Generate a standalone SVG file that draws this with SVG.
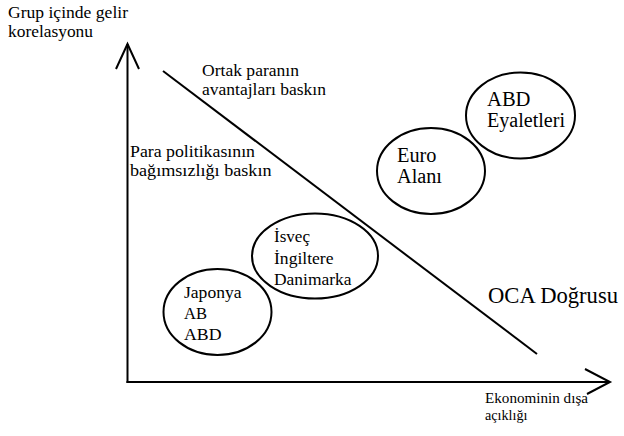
<svg xmlns="http://www.w3.org/2000/svg" width="624" height="436" viewBox="0 0 624 436">
<style>
  text { font-family: "Liberation Serif", "Times New Roman", serif; fill: #000; }
  .lbl { font-size: 17.5px; }
  .node-s { font-size: 17.5px; }
  .node-l { font-size: 20px; }
  .oca { font-size: 22.5px; }
  .ax { font-size: 14.5px; }
  .shape { fill: none; stroke: #000; stroke-width: 2; }
  .line { fill: none; stroke: #000; stroke-width: 2; stroke-linecap: butt; stroke-linejoin: miter; }
</style>
<rect x="0" y="0" width="624" height="436" fill="#fff"/>
<g id="connectors">
  <g id="y-axis">
    <line class="line" x1="127.5" y1="383" x2="127.5" y2="44"/>
    <polyline class="line" points="116,69 127.5,44 139,69"/>
  </g>
  <g id="x-axis">
    <line class="line" x1="126.5" y1="382" x2="609" y2="382"/>
    <polyline class="line" points="585,369 610,382 587,394"/>
  </g>
  <g id="oca-line">
    <line class="line" x1="163" y1="71" x2="537" y2="354"/>
  </g>
</g>
<g id="axis-labels">
  <text class="lbl" x="8" y="18" textLength="120" lengthAdjust="spacingAndGlyphs">Grup içinde gelir</text>
  <text class="lbl" x="8" y="37" textLength="85" lengthAdjust="spacingAndGlyphs">korelasyonu</text>
  <text class="ax" x="485" y="403" textLength="103" lengthAdjust="spacingAndGlyphs">Ekonominin dışa</text>
  <text class="ax" x="485" y="420" textLength="42.5" lengthAdjust="spacingAndGlyphs">açıklığı</text>
</g>
<g id="region-labels">
  <text class="lbl" x="202" y="76" textLength="97" lengthAdjust="spacingAndGlyphs">Ortak paranın</text>
  <text class="lbl" x="202" y="94.5" textLength="124" lengthAdjust="spacingAndGlyphs">avantajları baskın</text>
  <text class="lbl" x="130" y="157" textLength="125" lengthAdjust="spacingAndGlyphs">Para politikasının</text>
  <text class="lbl" x="130" y="176" textLength="141.5" lengthAdjust="spacingAndGlyphs">bağımsızlığı baskın</text>
  <text class="oca" x="488" y="303" textLength="130" lengthAdjust="spacingAndGlyphs">OCA Doğrusu</text>
</g>
<g id="node-japonya">
  <ellipse class="shape" cx="217.5" cy="312" rx="54" ry="43"/>
  <text class="node-s" x="184" y="298" textLength="57.5" lengthAdjust="spacingAndGlyphs">Japonya</text>
  <text class="node-s" x="184" y="319" textLength="23" lengthAdjust="spacingAndGlyphs">AB</text>
  <text class="node-s" x="184" y="339.5" textLength="37.5" lengthAdjust="spacingAndGlyphs">ABD</text>
</g>
<g id="node-isvec">
  <ellipse class="shape" cx="315" cy="256" rx="63" ry="42.5"/>
  <text class="node-s" x="274" y="242" textLength="36" lengthAdjust="spacingAndGlyphs">İsveç</text>
  <text class="node-s" x="274" y="263.5" textLength="59.5" lengthAdjust="spacingAndGlyphs">İngiltere</text>
  <text class="node-s" x="274" y="284.5" textLength="77.5" lengthAdjust="spacingAndGlyphs">Danimarka</text>
</g>
<g id="node-euro">
  <ellipse class="shape" cx="431" cy="171" rx="54" ry="43"/>
  <text class="node-l" x="397" y="162" textLength="39.5" lengthAdjust="spacingAndGlyphs">Euro</text>
  <text class="node-l" x="397" y="182.5" textLength="45" lengthAdjust="spacingAndGlyphs">Alanı</text>
</g>
<g id="node-abd">
  <ellipse class="shape" cx="520.5" cy="115.5" rx="54.5" ry="43"/>
  <text class="node-l" x="487" y="106" textLength="43.5" lengthAdjust="spacingAndGlyphs">ABD</text>
  <text class="node-l" x="487" y="127" textLength="78" lengthAdjust="spacingAndGlyphs">Eyaletleri</text>
</g>
</svg>
